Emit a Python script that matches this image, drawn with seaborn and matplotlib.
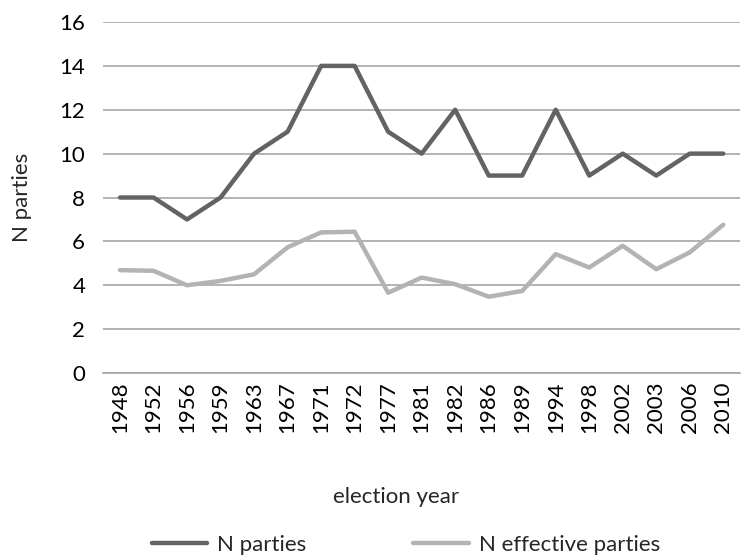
import matplotlib
matplotlib.use("Agg")
import matplotlib.pyplot as plt
import seaborn as sns
import pandas as pd

years = ["1948", "1952", "1956", "1959", "1963", "1967", "1971", "1972", "1977", "1981",
         "1982", "1986", "1989", "1994", "1998", "2002", "2003", "2006", "2010"]
n_parties = [8, 8, 7, 8, 10, 11, 14, 14, 11, 10, 12, 9, 9, 12, 9, 10, 9, 10, 10]
n_effective = [4.69, 4.66, 4.0, 4.2, 4.5, 5.73, 6.41, 6.44, 3.66, 4.35,
               4.05, 3.48, 3.74, 5.42, 4.81, 5.8, 4.73, 5.5, 6.76]
series_names = ["N parties", "N effective parties"]
yticks = [0, 2, 4, 6, 8, 10, 12, 14, 16]

df = pd.DataFrame({
    "year": years * 2,
    "value": n_parties + n_effective,
    "series": [series_names[0]] * len(years) + [series_names[1]] * len(years),
})

sns.set_theme(style="white")
plt.rcParams['font.family'] = ['Lato', 'DejaVu Sans']

FS = 16
fig = plt.figure(figsize=(7.43, 5.57), dpi=100)
ax = fig.add_axes([0.139, 0.3303, 0.857, 0.6302])

sns.lineplot(data=df, x="year", y="value", hue="series", sort=False,
             palette={series_names[0]: "#636363", series_names[1]: "#b3b3b3"},
             linewidth=3.2, ax=ax, legend=True)

ax.set_ylim(0, 16)
ax.set_xlim(-0.5, len(years) - 0.5)
ax.set_yticks(yticks)
ax.set_yticklabels([str(t) for t in yticks], fontsize=FS, color="#000000")
ax.set_xticks(range(len(years)))
ax.set_xticklabels(years, rotation=90, fontsize=FS, color="#000000")
ax.tick_params(axis="y", length=0, pad=13)
ax.tick_params(axis="x", length=0, pad=6)
ax.yaxis.grid(True, color="#a6a6a6", linewidth=1.2)
ax.xaxis.grid(False)
for s in ["top", "right", "left"]:
    ax.spines[s].set_visible(False)
ax.spines["bottom"].set_color("#a6a6a6")
ax.spines["bottom"].set_linewidth(1.2)
ax.set_axisbelow(True)

ax.set_ylabel("N parties", fontsize=FS)
ax.yaxis.set_label_coords(-0.112, 0.5)
ax.set_xlabel("election year", fontsize=FS)
ax.xaxis.set_label_coords(0.46, -0.325)

ax.legend(loc="center", bbox_to_anchor=(0.475, -0.49), ncol=2, frameon=False,
          fontsize=FS, handlelength=2.5, columnspacing=4.8, handletextpad=0.45)

fig.savefig("out.png", dpi=100)
